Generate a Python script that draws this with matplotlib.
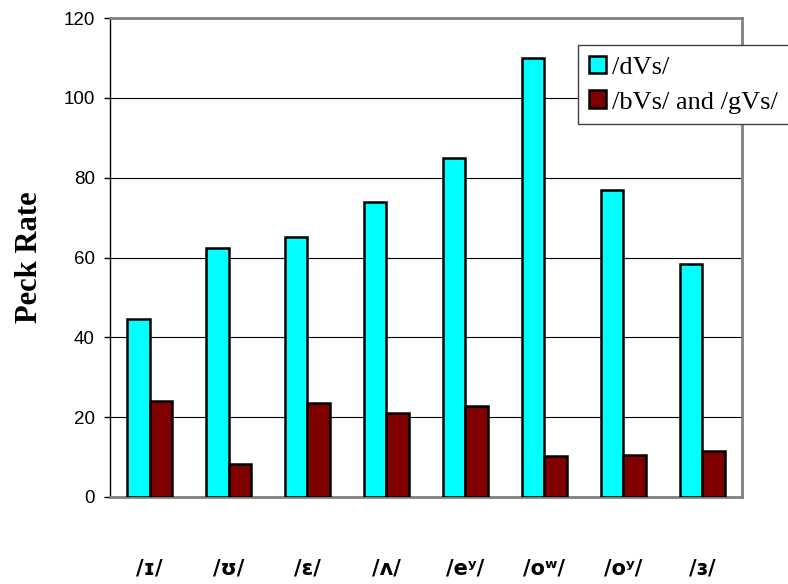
import numpy as np
from matplotlib import pyplot as plt

# vowel categories and peck rates
vowels = ['/ɪ/', '/ʊ/', '/ɛ/', '/ʌ/', '/eʸ/', '/oʷ/', '/oʸ/', '/ɜ/']
dvs = [44.7, 62.5, 65.2, 74.0, 85.0, 110.0, 77.0, 58.3]
bvs_gvs = [24.0, 8.2, 23.6, 21.0, 22.7, 10.3, 10.5, 11.5]
series_names = ['/dVs/', '/bVs/ and /gVs/']

fig = plt.figure(figsize=(7.88, 5.84), dpi=100)
ax = fig.add_axes([0.1396, 0.149, 0.802, 0.82])

x = np.arange(len(vowels))
w = 0.285
ax.bar(x - w/2, dvs, w, color='#00FFFF', edgecolor='black', linewidth=1.8,
       label=series_names[0], zorder=3)
ax.bar(x + w/2, bvs_gvs, w, color='#800000', edgecolor='black', linewidth=1.8,
       label=series_names[1], zorder=3)

ax.set_xlim(-0.5, len(vowels) - 0.5)
ax.set_ylim(0, 120)
ax.set_yticks(range(0, 121, 20))
ax.yaxis.grid(True, color='black', linewidth=0.8, zorder=0)

ax.set_xticks(x)
ax.set_xticklabels(vowels, fontsize=15, fontweight='bold', family='DejaVu Sans')
ax.tick_params(axis='x', length=0, pad=44)
ax.tick_params(axis='y', direction='out', length=4, width=1, pad=7)
for t in ax.get_yticklabels():
    t.set_family('Liberation Sans')
    t.set_fontsize(13.5)

for s in ['top', 'right', 'bottom']:
    ax.spines[s].set_color('#808080')
    ax.spines[s].set_linewidth(2)
ax.spines['left'].set_color('black')
ax.spines['left'].set_linewidth(1)

ax.set_ylabel('Peck Rate', fontsize=22, fontweight='bold',
              family='Liberation Serif', labelpad=14)

leg = fig.legend(loc='upper left', bbox_to_anchor=(0.7335, 0.923),
                 prop={'family': 'Liberation Serif', 'size': 19},
                 frameon=True, fancybox=False, edgecolor='#404040',
                 handlelength=0.65, handleheight=0.65, handletextpad=0.25,
                 borderpad=0.4, labelspacing=0.45, borderaxespad=0)
leg.get_frame().set_linewidth(1)
leg.get_frame().set_alpha(1)

plt.savefig('out.png', dpi=100)
